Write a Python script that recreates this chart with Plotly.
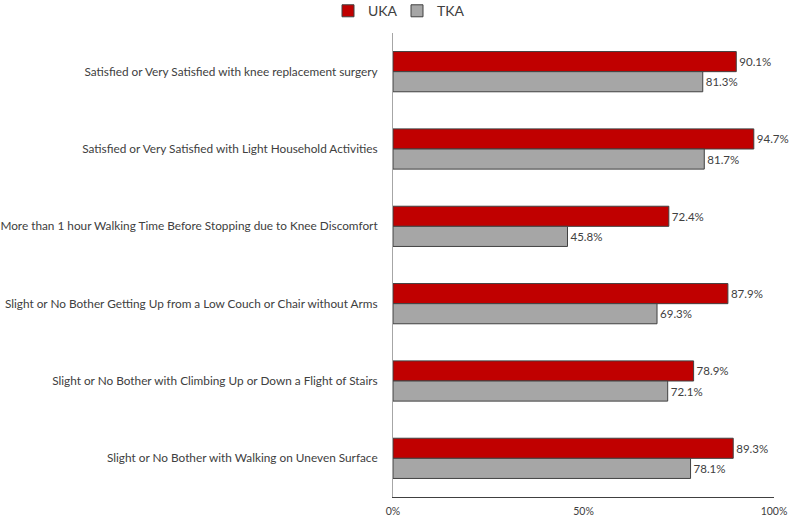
import plotly.graph_objects as go

categories = [
    "Satisfied or Very Satisfied with knee replacement surgery",
    "Satisfied or Very Satisfied with Light Household Activities",
    "More than 1 hour Walking Time Before Stopping due to Knee Discomfort",
    "Slight or No Bother Getting Up from a Low Couch or Chair without Arms",
    "Slight or No Bother with Climbing Up or Down a Flight of Stairs",
    "Slight or No Bother with Walking on Uneven Surface",
]
uka = [90.1, 94.7, 72.4, 87.9, 78.9, 89.3]
tka = [81.3, 81.7, 45.8, 69.3, 72.1, 78.1]

FONT = "Lato, 'Open Sans', sans-serif"
TEXT = "#404040"

fig = go.Figure()
for name, vals, color in [("UKA", uka, "#C00000"), ("TKA", tka, "#A6A6A6")]:
    fig.add_trace(go.Bar(
        y=categories, x=vals, name=name, orientation="h",
        marker=dict(color=color, line=dict(color="#404040", width=1)),
        text=[f"{v:.1f}%" for v in vals],
        textposition="outside",
        textfont=dict(size=11.5, color=TEXT, family=FONT),
        cliponaxis=False,
    ))

fig.update_layout(
    width=794, height=518,
    margin=dict(l=393, r=20, t=33, b=21, autoexpand=False),
    barmode="group", bargap=0.48, bargroupgap=0,
    plot_bgcolor="white", paper_bgcolor="white",
    font=dict(family=FONT, size=11.5, color=TEXT),
    legend=dict(
        orientation="h", x=0.5, xanchor="center", xref="container",
        y=1.047, yanchor="middle", yref="paper",
        font=dict(size=14, color=TEXT), traceorder="normal",
        itemwidth=30, entrywidth=24,
    ),
    xaxis=dict(
        range=[0, 100], tickvals=[0, 50, 100], ticktext=["0%", "50%", "100%"],
        showgrid=False, zeroline=False, showline=True, linecolor="#404040",
        linewidth=1, ticks="", tickfont=dict(size=10.5, color=TEXT),
        ticklabelstandoff=4, automargin=False,
    ),
    yaxis=dict(
        autorange="reversed", showgrid=False, zeroline=False,
        showline=True, linecolor="#A6A6A6", linewidth=1, ticks="",
        ticklabelstandoff=12, tickfont=dict(size=11.8, color=TEXT),
        automargin=False,
    ),
)

# the page body has a default 8px margin; drop it so the figure fills the window
fig.write_html("out.html", config={"displayModeBar": False},
               post_script="document.body.style.margin='0';")
